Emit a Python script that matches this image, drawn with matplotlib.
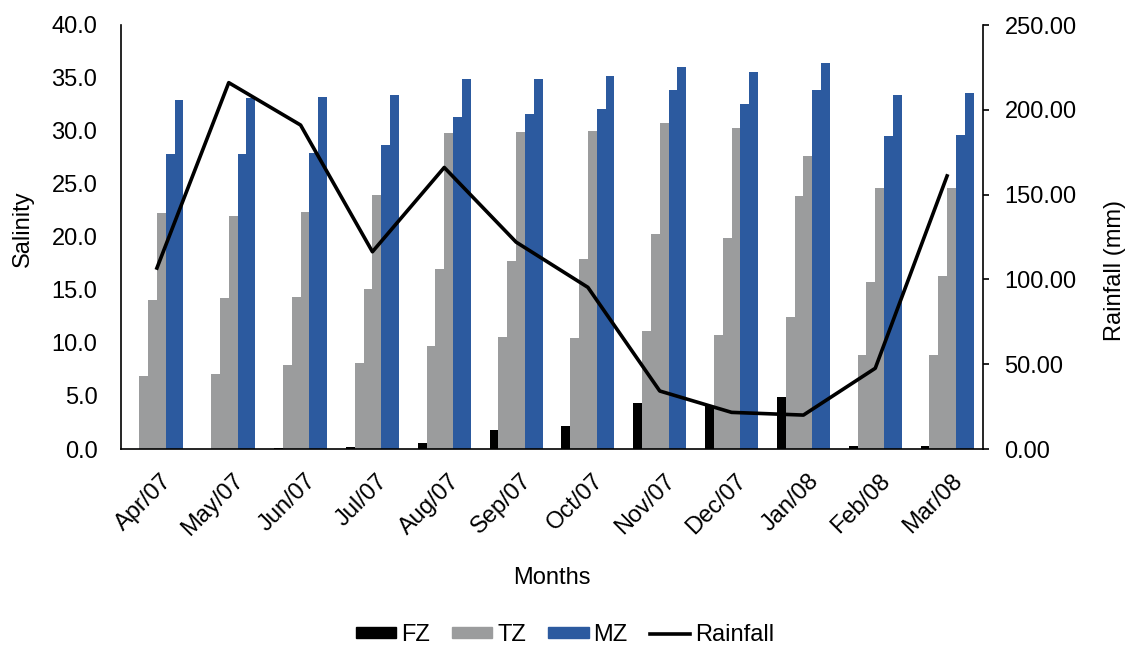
import matplotlib
matplotlib.use("Agg")
import matplotlib.pyplot as plt
import matplotlib.transforms as mtransforms
import numpy as np
from matplotlib.patches import Patch
from matplotlib.lines import Line2D

plt.rcParams['font.family'] = ['Liberation Sans', 'DejaVu Sans']

months = ["Apr/07", "May/07", "Jun/07", "Jul/07", "Aug/07", "Sep/07",
          "Oct/07", "Nov/07", "Dec/07", "Jan/08", "Feb/08", "Mar/08"]

# Salinity per station (freshwater, transition and marine zones)
fz = [0.0, 0.0, 0.1, 0.2, 0.55, 1.8, 2.2, 4.3, 4.1, 4.9, 0.3, 0.3]
tz1 = [6.9, 7.1, 7.9, 8.1, 9.75, 10.6, 10.5, 11.1, 10.8, 12.5, 8.9, 8.9]
tz2 = [14.1, 14.2, 14.3, 15.1, 16.95, 17.7, 17.9, 20.3, 19.9, 23.9, 15.8, 16.3]
tz3 = [22.3, 22.0, 22.4, 24.0, 29.8, 29.9, 30.0, 30.8, 30.3, 27.6, 24.6, 24.6]
mz1 = [27.8, 27.8, 27.9, 28.7, 31.3, 31.6, 32.1, 33.9, 32.5, 33.9, 29.5, 29.6]
mz2 = [32.9, 33.1, 33.2, 33.4, 34.9, 34.9, 35.2, 36.0, 35.6, 36.4, 33.4, 33.6]

rainfall = [106.7, 216.0, 191.0, 116.3, 166.0, 122.0, 95.3, 34.2, 21.6, 20.0, 47.6, 161.0]

BLACK = "#000000"
GRAY = "#9b9c9d"
BLUE = "#2c5a9f"
FS = 17

fig = plt.figure(figsize=(11.33, 6.48), dpi=100)
ax = fig.add_axes([121 / 1133, 1 - 449 / 648, (983 - 121) / 1133, (449 - 25) / 648])

x = np.arange(len(months))
w = 0.123
series = [(fz, BLACK), (tz1, GRAY), (tz2, GRAY), (tz3, GRAY), (mz1, BLUE), (mz2, BLUE)]
for k, (vals, col) in enumerate(series):
    ax.bar(x + (k - 2.5) * w, vals, width=w, color=col, edgecolor='none', zorder=2)

ax.set_xlim(-0.5, 11.5)
ax.set_ylim(0, 40)
ax.set_yticks(np.arange(0, 40.1, 5))
ax.set_yticklabels([f"{v:.1f}" for v in np.arange(0, 40.1, 5)])
ax.set_xticks(x)
ax.set_xticklabels(months, rotation=45, ha='right', rotation_mode='anchor')
ax.tick_params(axis='x', length=0, pad=15, labelsize=FS)
ax.tick_params(axis='y', length=0, pad=17, labelsize=FS)
shift = mtransforms.ScaledTranslation(4 / 100, 0, fig.dpi_scale_trans)
for lbl in ax.get_xticklabels():
    lbl.set_transform(lbl.get_transform() + shift)
for s in ['top', 'right']:
    ax.spines[s].set_visible(False)
for s in ['left', 'bottom']:
    ax.spines[s].set_linewidth(1.2)
ax.set_ylabel("Salinity", fontsize=FS)
ax.yaxis.set_label_coords(-0.101, 0.52)
ax.set_xlabel("Months", fontsize=FS)
ax.xaxis.set_label_coords(0.5, -0.278)

ax2 = ax.twinx()
ax2.plot(x, rainfall, color='black', linewidth=2.6, zorder=3)
ax2.set_ylim(0, 250)
ax2.set_yticks(np.arange(0, 250.1, 50))
ax2.set_yticklabels([f"{v:.2f}" for v in np.arange(0, 250.1, 50)])
ax2.tick_params(axis='y', length=4.5, width=1.2, pad=11, labelsize=FS)
for s in ['top', 'left', 'bottom']:
    ax2.spines[s].set_visible(False)
ax2.spines['right'].set_linewidth(1.2)
ax2.set_ylabel("Rainfall (mm)", fontsize=FS)
ax2.yaxis.set_label_coords(1.1405, 0.42)

handles = [Patch(color=BLACK), Patch(color=GRAY), Patch(color=BLUE),
           Line2D([], [], color='black', linewidth=2.6)]
fig.legend(handles, ["FZ", "TZ", "MZ", "Rainfall"], loc='center',
           bbox_to_anchor=(565 / 1133, 1 - 635 / 648), ncol=4, frameon=False,
           fontsize=FS, handlelength=1.7, handleheight=0.35,
           handletextpad=0.2, columnspacing=0.95)

fig.savefig("out.png", dpi=100)
